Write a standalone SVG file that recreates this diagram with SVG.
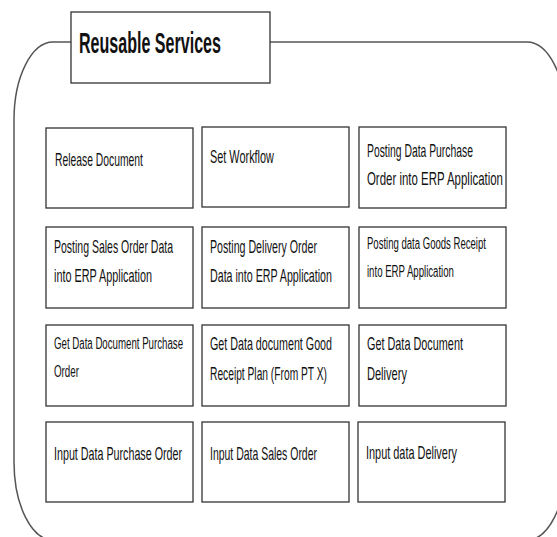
<svg xmlns="http://www.w3.org/2000/svg" width="557" height="537" viewBox="0 0 557 537">
<style>
.box{fill:#fff;stroke:#333;stroke-width:1.3}
.t{font-family:"Liberation Sans",Arial,sans-serif;font-size:17.5px;fill:#111}
.s{font-size:16px}
.title{font-family:"Liberation Sans",Arial,sans-serif;font-size:29px;font-weight:bold;fill:#111}
</style>
<rect width="557" height="537" fill="#fff"/>
<g id="container">
<path d="M53,42 H527 A39,78 0 0 1 566,120 V462 A39,78 0 0 1 527,540 H53 A39,78 0 0 1 14,462 V120 A39,78 0 0 1 53,42 Z" fill="none" stroke="#555" stroke-width="1.5"/>
</g>
<g id="title">
<rect class="box" x="71" y="12" width="199" height="71"/>
<g transform="scale(0.55,1)"><text class="title" x="143.6" y="53" textLength="258.2" lengthAdjust="spacingAndGlyphs">Reusable Services</text></g>
</g>
<g id="n1"><rect class="box" x="46" y="128" width="147" height="80"/>
<g transform="scale(0.62,1)"><text class="t" x="88.7" y="166" textLength="141.9" lengthAdjust="spacingAndGlyphs">Release Document</text></g></g>
<g id="n2"><rect class="box" x="202" y="127" width="147" height="80"/>
<g transform="scale(0.62,1)"><text class="t" x="338.7" y="163" textLength="103.2" lengthAdjust="spacingAndGlyphs">Set Workflow</text></g></g>
<g id="n3"><rect class="box" x="359" y="127" width="147" height="81"/>
<g transform="scale(0.62,1)"><text class="t" x="591.9" y="157" textLength="171" lengthAdjust="spacingAndGlyphs">Posting Data Purchase</text>
<text class="t" x="591.9" y="185" textLength="219.4" lengthAdjust="spacingAndGlyphs">Order into ERP Application</text></g></g>
<g id="n4"><rect class="box" x="46" y="227" width="147" height="81"/>
<g transform="scale(0.62,1)"><text class="t" x="87.1" y="253" textLength="191.9" lengthAdjust="spacingAndGlyphs">Posting Sales Order Data</text>
<text class="t" x="87.1" y="282" textLength="158.1" lengthAdjust="spacingAndGlyphs">into ERP Application</text></g></g>
<g id="n5"><rect class="box" x="202" y="227" width="147" height="81"/>
<g transform="scale(0.62,1)"><text class="t" x="338.7" y="253" textLength="172.6" lengthAdjust="spacingAndGlyphs">Posting Delivery Order</text>
<text class="t" x="338.7" y="282" textLength="196.8" lengthAdjust="spacingAndGlyphs">Data into ERP Application</text></g></g>
<g id="n6"><rect class="box" x="359" y="227" width="147" height="81"/>
<g transform="scale(0.62,1)"><text class="t s" x="591.9" y="249" textLength="191.9" lengthAdjust="spacingAndGlyphs">Posting data Goods Receipt</text>
<text class="t s" x="591.9" y="277" textLength="140.3" lengthAdjust="spacingAndGlyphs">into ERP Application</text></g></g>
<g id="n7"><rect class="box" x="46" y="325" width="147" height="81"/>
<g transform="scale(0.62,1)"><text class="t s" x="87.1" y="349" textLength="208.1" lengthAdjust="spacingAndGlyphs">Get Data Document Purchase</text>
<text class="t s" x="87.1" y="377" textLength="40.3" lengthAdjust="spacingAndGlyphs">Order</text></g></g>
<g id="n8"><rect class="box" x="202" y="325" width="147" height="81"/>
<g transform="scale(0.62,1)"><text class="t" x="338.7" y="350" textLength="196.8" lengthAdjust="spacingAndGlyphs">Get Data document Good</text>
<text class="t" x="338.7" y="380" textLength="188.7" lengthAdjust="spacingAndGlyphs">Receipt Plan (From PT X)</text></g></g>
<g id="n9"><rect class="box" x="359" y="325" width="147" height="81"/>
<g transform="scale(0.62,1)"><text class="t" x="591.9" y="350" textLength="154.8" lengthAdjust="spacingAndGlyphs">Get Data Document</text>
<text class="t" x="591.9" y="380" textLength="64.5" lengthAdjust="spacingAndGlyphs">Delivery</text></g></g>
<g id="n10"><rect class="box" x="46" y="422" width="147" height="80"/>
<g transform="scale(0.62,1)"><text class="t" x="87.1" y="460" textLength="206.5" lengthAdjust="spacingAndGlyphs">Input Data Purchase Order</text></g></g>
<g id="n11"><rect class="box" x="202" y="422" width="147" height="80"/>
<g transform="scale(0.62,1)"><text class="t" x="338.7" y="460" textLength="172.6" lengthAdjust="spacingAndGlyphs">Input Data Sales Order</text></g></g>
<g id="n12"><rect class="box" x="358" y="422" width="147" height="80"/>
<g transform="scale(0.62,1)"><text class="t" x="590.3" y="459" textLength="146.8" lengthAdjust="spacingAndGlyphs">Input data Delivery</text></g></g>
<g id="connectors"/>
</svg>
